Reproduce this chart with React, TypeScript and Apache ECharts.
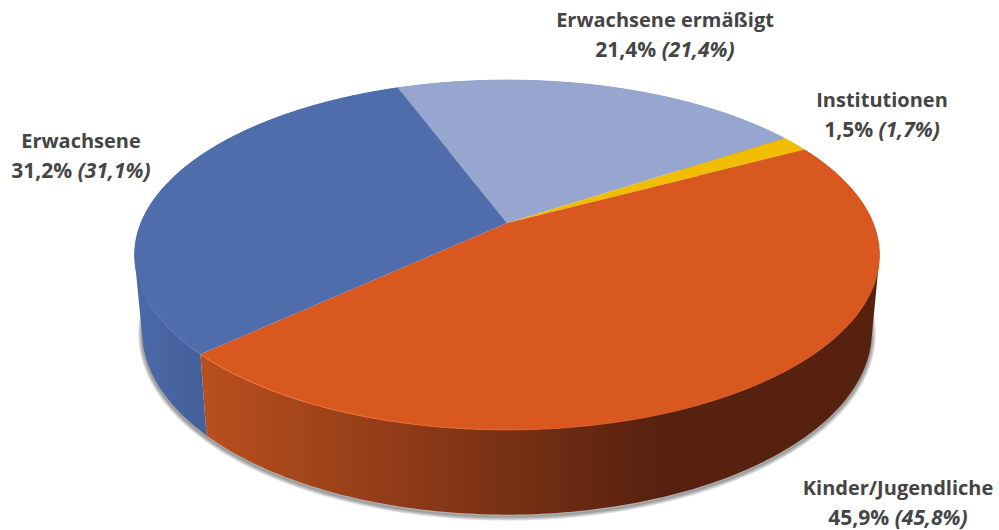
import React, { useEffect, useRef } from "react";
import * as echarts from "echarts";

const categories = ["Erwachsene ermäßigt", "Institutionen", "Kinder/Jugendliche", "Erwachsene"];
const shares = [21.4, 1.5, 45.9, 31.2];
const previous = [21.4, 1.7, 45.8, 31.1];
const topColors = ["#97a6cf", "#f0bd00", "#d9581f", "#4f6cab"];
const wallColors: [string, string][] = [
  ["#7f8cb0", "#7f8cb0"],
  ["#b08a00", "#b08a00"],
  ["#b94f1d", "#572110"],
  ["#4a69a6", "#445f9a"],
];
const wallRanges = [
  [0, 999],
  [0, 999],
  [205, 660],
  [140, 208],
];
const labelCenters = [
  [665, 34],
  [882, 114],
  [898, 502],
  [81, 155],
];
const shadowWidths = [8, 6, 4, 2];

const START_DEG = -20.5;
const CX = 507;
const CY = 223;
const A = 366;
const H = 169;
const P = 0.183;
const BOTTOM = { cy: 298, a: A * 0.98, h: 177 };

const total = shares.reduce((s, v) => s + v, 0);
const fmt = (v: number) => v.toFixed(1).replace(".", ",") + "%";

function topPoint(deg: number): number[] {
  const t = (deg * Math.PI) / 180;
  const X = Math.sin(t);
  const Y = -Math.cos(t);
  const w = 1 - P * Y;
  return [CX + (A * X) / w, CY + (H * Y) / w];
}
function bottomPoint(deg: number): number[] {
  const t = (deg * Math.PI) / 180;
  const X = Math.sin(t);
  const Y = -Math.cos(t);
  const w = 1 - P * Y;
  return [CX + (BOTTOM.a * X) / w, BOTTOM.cy + (BOTTOM.h * Y) / w];
}
function arc(fn: (d: number) => number[], a: number, b: number): number[][] {
  const n = Math.max(4, Math.ceil(Math.abs(b - a)));
  const out: number[][] = [];
  for (let i = 0; i <= n; i++) out.push(fn(a + ((b - a) * i) / n));
  return out;
}
const toPath = (pts: number[][], close = true) =>
  "M" + pts.map((p) => p[0].toFixed(2) + " " + p[1].toFixed(2)).join("L") + (close ? "Z" : "");

function area(q: number[][]): number {
  let s = 0;
  for (let i = 0; i < q.length; i++) {
    const a = q[i];
    const b = q[(i + 1) % q.length];
    s += a[0] * b[1] - b[0] * a[1];
  }
  return s;
}
// The wall is the union of small quads, so that the silhouette between the top and bottom rims stays full.
function wallPath(a: number, b: number): string {
  const t = arc(topPoint, a, b);
  const u = arc(bottomPoint, a, b);
  let d = "";
  for (let i = 0; i + 1 < t.length; i++) {
    const q = [t[i], t[i + 1], u[i + 1], u[i]];
    d += toPath(area(q) < 0 ? q.slice().reverse() : q);
  }
  return d;
}

function sliceAngles(index: number): [number, number] {
  let acc = 0;
  for (let i = 0; i < index; i++) acc += shares[i];
  const a = START_DEG + (acc / total) * 360;
  return [a, a + (shares[index] / total) * 360];
}

const rawPath = (d: string, style: any, extra: any = {}) => ({
  type: "path",
  shape: { pathData: d },
  style,
  ...extra,
});

const rimStroke = (i: number): any => {
  if (i === 2) {
    return {
      type: "linear",
      x: 205,
      y: 0,
      x2: 640,
      y2: 0,
      global: true,
      colorStops: [
        { offset: 0, color: "#f57a3e" },
        { offset: 1, color: topColors[2] },
      ],
    };
  }
  if (i === 3) {
    return {
      type: "linear",
      x: 0,
      y: 285,
      x2: 0,
      y2: 350,
      global: true,
      colorStops: [
        { offset: 0, color: topColors[3] },
        { offset: 1, color: "#5f7dbf" },
      ],
    };
  }
  return topColors[i];
};

export default function App() {
  const ref = useRef<HTMLDivElement>(null);
  useEffect(() => {
    const chart = echarts.init(ref.current!, undefined, { renderer: "svg" });
    const data = shares.map((v, i) => ({ value: [v, i], name: categories[i] }));
    chart.setOption({
      animation: false,
      backgroundColor: "#ffffff",
      series: [
        {
          type: "custom",
          coordinateSystem: "none",
          silent: true,
          z: 1,
          data: [[0]],
          renderItem: () => ({
            type: "group",
            children: shadowWidths.map((w) =>
              rawPath(
                toPath(arc(bottomPoint, 80, 280), false),
                { fill: "none", stroke: "rgba(0,0,0,0.11)", lineWidth: w },
                { x: 0, y: 2 }
              )
            ),
          }),
        },
        {
          type: "custom",
          coordinateSystem: "none",
          silent: true,
          z: 2,
          data,
          renderItem: (_p: any, api: any) => {
            const i = api.value(1);
            const [a, b] = sliceAngles(i);
            return rawPath(wallPath(a, b), {
              fill: {
                type: "linear",
                x: wallRanges[i][0],
                y: 0,
                x2: wallRanges[i][1],
                y2: 0,
                global: true,
                colorStops: [
                  { offset: 0, color: wallColors[i][0] },
                  { offset: 1, color: wallColors[i][1] },
                ],
              },
            });
          },
        },
        {
          type: "custom",
          coordinateSystem: "none",
          silent: true,
          z: 3,
          data,
          renderItem: (_p: any, api: any) => {
            const i = api.value(1);
            const [a, b] = sliceAngles(i);
            const rim = arc(topPoint, a, b);
            const pts = [[CX, CY]].concat(rim);
            return {
              type: "group",
              children: [
                rawPath(toPath(pts), { fill: topColors[i] }),
                rawPath(toPath(rim, false), {
                  fill: "none",
                  stroke: rimStroke(i),
                  lineWidth: 1,
                }),
              ],
            };
          },
        },
      ],
      graphic: categories.map((c, i) => ({
        type: "text",
        x: labelCenters[i][0],
        y: labelCenters[i][1],
        z: 10,
        style: {
          text: `{a|${c}}\n{c|${fmt(shares[i])} }{b|(${fmt(previous[i])})}`,
          align: "center",
          verticalAlign: "middle",
          rich: {
            a: {
              fontFamily: "Open Sans",
              fontSize: 20,
              fontWeight: 700,
              fill: "#454545",
              lineHeight: 29,
            },
            c: {
              fontFamily: "Open Sans",
              fontSize: 21,
              fontWeight: 700,
              fill: "#454545",
              lineHeight: 29,
            },
            b: {
              fontFamily: "Open Sans",
              fontSize: 21,
              fontWeight: 700,
              fontStyle: "italic",
              fill: "#454545",
              lineHeight: 29,
            },
          },
        },
      })),
    });
    return () => chart.dispose();
  }, []);
  return <div ref={ref} style={{ position: "absolute", left: 0, top: 0, width: 999, height: 530 }} />;
}
